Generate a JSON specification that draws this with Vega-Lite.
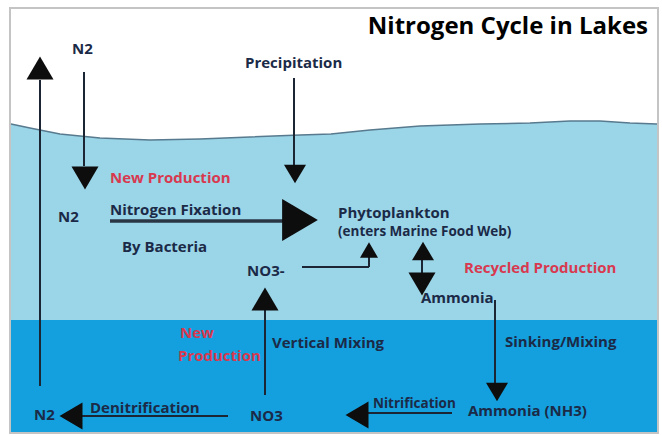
{
  "$schema": "https://vega.github.io/schema/vega-lite/v6.json",
  "width": 662,
  "height": 436,
  "autosize": {"type": "fit", "contains": "padding"},
  "padding": 0,
  "background": "white",
  "config": {"view": {"stroke": null}},
  "datasets": {
    "frame": [{"x": 10, "y": 8, "x2": 658, "y2": 433}],
    "deep": [{"x": 11, "y": 320, "x2": 657, "y2": 432}],
    "surface": [
      {"x": 11, "y": 124}, {"x": 30, "y": 128}, {"x": 60, "y": 134}, {"x": 100, "y": 138},
      {"x": 150, "y": 140}, {"x": 200, "y": 139}, {"x": 250, "y": 137}, {"x": 300, "y": 135},
      {"x": 331, "y": 134}, {"x": 370, "y": 130}, {"x": 420, "y": 126}, {"x": 480, "y": 124},
      {"x": 530, "y": 123}, {"x": 570, "y": 121}, {"x": 600, "y": 121}, {"x": 630, "y": 123},
      {"x": 657, "y": 124}
    ],
    "shafts": [
      {"x": 40, "y": 80, "x2": 40, "y2": 386},
      {"x": 84, "y": 72, "x2": 84, "y2": 166},
      {"x": 294, "y": 78, "x2": 294, "y2": 165},
      {"x": 302, "y": 267, "x2": 369, "y2": 267},
      {"x": 369, "y": 267, "x2": 369, "y2": 257},
      {"x": 422, "y": 258, "x2": 422, "y2": 276},
      {"x": 495, "y": 300, "x2": 495, "y2": 383},
      {"x": 265, "y": 395, "x2": 265, "y2": 307},
      {"x": 80, "y": 416, "x2": 228, "y2": 416},
      {"x": 365, "y": 413, "x2": 452, "y2": 413}
    ],
    "bigshaft": [{"x": 110, "y": 221, "x2": 286, "y2": 221}],
    "heads": [
      {"x": 40, "y": 68, "dir": "up", "kind": "m"},
      {"x": 85, "y": 178, "dir": "down", "kind": "m"},
      {"x": 295, "y": 174, "dir": "down", "kind": "s"},
      {"x": 300, "y": 220, "dir": "right", "kind": "l"},
      {"x": 369, "y": 250, "dir": "up", "kind": "xs"},
      {"x": 423, "y": 251, "dir": "up", "kind": "s"},
      {"x": 422, "y": 284, "dir": "down", "kind": "m"},
      {"x": 265, "y": 299, "dir": "up", "kind": "m"},
      {"x": 497, "y": 392, "dir": "down", "kind": "s"},
      {"x": 357, "y": 415, "dir": "left", "kind": "m"},
      {"x": 71, "y": 416, "dir": "left", "kind": "m"}
    ],
    "labels": [
      {"t": "N2", "x": 72, "y": 54},
      {"t": "Precipitation", "x": 245, "y": 68},
      {"t": "Nitrogen Fixation", "x": 110, "y": 215},
      {"t": "N2", "x": 58, "y": 222},
      {"t": "By Bacteria", "x": 122, "y": 252},
      {"t": "Phytoplankton", "x": 338, "y": 218},
      {"t": "NO3-", "x": 247, "y": 276},
      {"t": "Ammonia", "x": 421, "y": 303},
      {"t": "Vertical Mixing", "x": 272, "y": 348},
      {"t": "Sinking/Mixing", "x": 505, "y": 347},
      {"t": "N2", "x": 34, "y": 420},
      {"t": "Denitrification", "x": 90, "y": 413},
      {"t": "NO3", "x": 250, "y": 421},
      {"t": "Ammonia (NH3)", "x": 468, "y": 416}
    ],
    "small": [
      {"t": "(enters Marine Food Web)", "x": 338, "y": 236},
      {"t": "Nitrification", "x": 373, "y": 408}
    ],
    "red": [
      {"t": "New Production", "x": 110, "y": 183},
      {"t": "Recycled Production", "x": 464, "y": 273},
      {"t": "New", "x": 180, "y": 338},
      {"t": "Production", "x": 178, "y": 361}
    ],
    "title": [{"t": "Nitrogen Cycle in Lakes", "x": 648, "y": 34}]
  },
  "layer": [
    {
      "data": {"name": "frame"},
      "mark": {"type": "rect", "fill": "white", "stroke": "#c4c4c4", "strokeWidth": 2},
      "encoding": {
        "x": {"field": "x", "type": "quantitative", "scale": {"domain": [0, 662]}, "axis": null},
        "x2": {"field": "x2"},
        "y": {"field": "y", "type": "quantitative", "scale": {"domain": [0, 436], "reverse": true}, "axis": null},
        "y2": {"field": "y2"}
      }
    },
    {
      "data": {"name": "surface"},
      "mark": {"type": "area", "color": "#9bd5e8", "opacity": 1},
      "encoding": {
        "x": {"field": "x", "type": "quantitative", "scale": {"domain": [0, 662]}, "axis": null},
        "y": {"field": "y", "type": "quantitative", "scale": {"domain": [0, 436], "reverse": true}, "axis": null},
        "y2": {"datum": 321}
      }
    },
    {
      "data": {"name": "surface"},
      "mark": {"type": "line", "color": "#587a8e", "strokeWidth": 1.5},
      "encoding": {
        "x": {"field": "x", "type": "quantitative", "scale": {"domain": [0, 662]}, "axis": null},
        "y": {"field": "y", "type": "quantitative", "scale": {"domain": [0, 436], "reverse": true}, "axis": null}
      }
    },
    {
      "data": {"name": "deep"},
      "mark": {"type": "rect", "color": "#14a0df"},
      "encoding": {
        "x": {"field": "x", "type": "quantitative", "scale": {"domain": [0, 662]}, "axis": null},
        "x2": {"field": "x2"},
        "y": {"field": "y", "type": "quantitative", "scale": {"domain": [0, 436], "reverse": true}, "axis": null},
        "y2": {"field": "y2"}
      }
    },
    {
      "data": {"name": "shafts"},
      "mark": {"type": "rule", "color": "#1c2533", "strokeWidth": 2},
      "encoding": {
        "x": {"field": "x", "type": "quantitative", "scale": {"domain": [0, 662]}, "axis": null},
        "x2": {"field": "x2"},
        "y": {"field": "y", "type": "quantitative", "scale": {"domain": [0, 436], "reverse": true}, "axis": null},
        "y2": {"field": "y2"}
      }
    },
    {
      "data": {"name": "bigshaft"},
      "mark": {"type": "rule", "color": "#2a3644", "strokeWidth": 3.5},
      "encoding": {
        "x": {"field": "x", "type": "quantitative", "scale": {"domain": [0, 662]}, "axis": null},
        "x2": {"field": "x2"},
        "y": {"field": "y", "type": "quantitative", "scale": {"domain": [0, 436], "reverse": true}, "axis": null},
        "y2": {"field": "y2"}
      }
    },
    {
      "data": {"name": "heads"},
      "transform": [{"filter": "datum.kind == 'xs'"}],
      "mark": {"type": "point", "filled": true, "color": "#0d0d0d", "opacity": 1, "strokeWidth": 0, "size": 324},
      "encoding": {
        "x": {"field": "x", "type": "quantitative", "scale": {"domain": [0, 662]}, "axis": null},
        "y": {"field": "y", "type": "quantitative", "scale": {"domain": [0, 436], "reverse": true}, "axis": null},
        "shape": {
          "field": "dir", "type": "nominal", "legend": null,
          "scale": {
            "domain": ["up", "down", "left", "right"],
            "range": ["M0,-0.85L1,0.85L-1,0.85Z", "M-1,-0.85L1,-0.85L0,0.85Z", "M-0.85,0L0.85,-1L0.85,1Z", "M-0.85,-1L0.85,0L-0.85,1Z"]
          }
        }
      }
    },
    {
      "data": {"name": "heads"},
      "transform": [{"filter": "datum.kind == 's'"}],
      "mark": {"type": "point", "filled": true, "color": "#0d0d0d", "opacity": 1, "strokeWidth": 0, "size": 484},
      "encoding": {
        "x": {"field": "x", "type": "quantitative", "scale": {"domain": [0, 662]}, "axis": null},
        "y": {"field": "y", "type": "quantitative", "scale": {"domain": [0, 436], "reverse": true}, "axis": null},
        "shape": {
          "field": "dir", "type": "nominal", "legend": null,
          "scale": {
            "domain": ["up", "down", "left", "right"],
            "range": ["M0,-0.85L1,0.85L-1,0.85Z", "M-1,-0.85L1,-0.85L0,0.85Z", "M-0.85,0L0.85,-1L0.85,1Z", "M-0.85,-1L0.85,0L-0.85,1Z"]
          }
        }
      }
    },
    {
      "data": {"name": "heads"},
      "transform": [{"filter": "datum.kind == 'm'"}],
      "mark": {"type": "point", "filled": true, "color": "#0d0d0d", "opacity": 1, "strokeWidth": 0, "size": 729},
      "encoding": {
        "x": {"field": "x", "type": "quantitative", "scale": {"domain": [0, 662]}, "axis": null},
        "y": {"field": "y", "type": "quantitative", "scale": {"domain": [0, 436], "reverse": true}, "axis": null},
        "shape": {
          "field": "dir", "type": "nominal", "legend": null,
          "scale": {
            "domain": ["up", "down", "left", "right"],
            "range": ["M0,-0.85L1,0.85L-1,0.85Z", "M-1,-0.85L1,-0.85L0,0.85Z", "M-0.85,0L0.85,-1L0.85,1Z", "M-0.85,-1L0.85,0L-0.85,1Z"]
          }
        }
      }
    },
    {
      "data": {"name": "heads"},
      "transform": [{"filter": "datum.kind == 'l'"}],
      "mark": {"type": "point", "filled": true, "color": "#0d0d0d", "opacity": 1, "strokeWidth": 0, "size": 1764},
      "encoding": {
        "x": {"field": "x", "type": "quantitative", "scale": {"domain": [0, 662]}, "axis": null},
        "y": {"field": "y", "type": "quantitative", "scale": {"domain": [0, 436], "reverse": true}, "axis": null},
        "shape": {
          "field": "dir", "type": "nominal", "legend": null,
          "scale": {
            "domain": ["up", "down", "left", "right"],
            "range": ["M0,-0.85L1,0.85L-1,0.85Z", "M-1,-0.85L1,-0.85L0,0.85Z", "M-0.85,0L0.85,-1L0.85,1Z", "M-0.85,-1L0.85,0L-0.85,1Z"]
          }
        }
      }
    },
    {
      "data": {"name": "labels"},
      "mark": {"type": "text", "align": "left", "baseline": "alphabetic", "font": "Open Sans", "fontWeight": "bold", "fontSize": 15, "color": "#1b2a47"},
      "encoding": {
        "x": {"field": "x", "type": "quantitative", "scale": {"domain": [0, 662]}, "axis": null},
        "y": {"field": "y", "type": "quantitative", "scale": {"domain": [0, 436], "reverse": true}, "axis": null},
        "text": {"field": "t", "type": "nominal"}
      }
    },
    {
      "data": {"name": "small"},
      "mark": {"type": "text", "align": "left", "baseline": "alphabetic", "font": "Open Sans", "fontWeight": "bold", "fontSize": 13.5, "color": "#1b2a47"},
      "encoding": {
        "x": {"field": "x", "type": "quantitative", "scale": {"domain": [0, 662]}, "axis": null},
        "y": {"field": "y", "type": "quantitative", "scale": {"domain": [0, 436], "reverse": true}, "axis": null},
        "text": {"field": "t", "type": "nominal"}
      }
    },
    {
      "data": {"name": "red"},
      "mark": {"type": "text", "align": "left", "baseline": "alphabetic", "font": "Open Sans", "fontWeight": "bold", "fontSize": 15, "color": "#d8394f"},
      "encoding": {
        "x": {"field": "x", "type": "quantitative", "scale": {"domain": [0, 662]}, "axis": null},
        "y": {"field": "y", "type": "quantitative", "scale": {"domain": [0, 436], "reverse": true}, "axis": null},
        "text": {"field": "t", "type": "nominal"}
      }
    },
    {
      "data": {"name": "title"},
      "mark": {"type": "text", "align": "right", "baseline": "alphabetic", "font": "Open Sans", "fontWeight": "bold", "fontSize": 24, "color": "#000000"},
      "encoding": {
        "x": {"field": "x", "type": "quantitative", "scale": {"domain": [0, 662]}, "axis": null},
        "y": {"field": "y", "type": "quantitative", "scale": {"domain": [0, 436], "reverse": true}, "axis": null},
        "text": {"field": "t", "type": "nominal"}
      }
    }
  ]
}
